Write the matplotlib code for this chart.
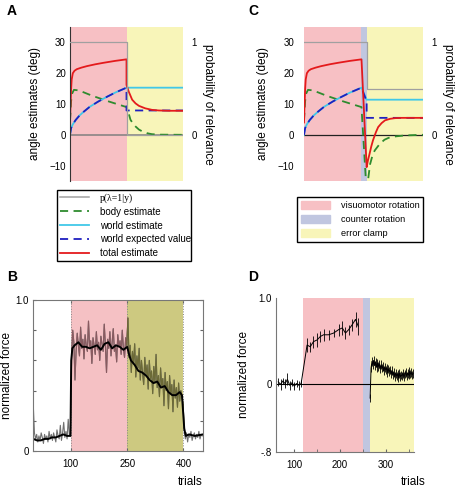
import numpy as np
import matplotlib.pyplot as plt
from matplotlib.patches import Patch

plt.rcParams['font.family'] = ['Liberation Sans', 'DejaVu Sans']

# ---- model curves, panels A and C ----
# shared learning phase (visuomotor rotation, trials 0-100)
rise_t = [0, 1, 2, 3, 5, 8, 12, 20, 30, 45, 60, 80, 100]
rise_total = [4, 10, 15, 18, 20, 20.8, 21.3, 21.8, 22.3, 22.9, 23.4, 24.0, 24.5]
body_t = [0, 2, 4, 7, 16, 39, 69, 100]
body_rise = [4.5, 11, 13.5, 14.6, 14.4, 12.7, 10.8, 9.0]
world_t = [0, 2, 5, 10, 17, 25, 35, 50, 65, 80, 100]
world_rise = [0, 2.2, 3.4, 4.8, 6.3, 7.6, 9.1, 10.8, 12.3, 13.7, 15.3]

# panel A: error clamp after trial 100
a_total_t = [100, 104, 110, 116, 122, 133, 145, 157, 175, 200]
a_total = [16.2, 14.0, 11.4, 10.2, 9.4, 8.6, 8.1, 7.9, 7.8, 7.8]
a_body_t = [103, 107, 112, 116, 122, 128, 137, 145, 160, 200]
a_body = [7.5, 4.9, 3.5, 2.7, 1.7, 1.1, 0.5, 0.2, 0.05, 0]
a_world_t = [200]
a_world = [15.3]
a_wexp_t = [100, 200]
a_wexp = [7.9, 7.9]
a_p_t = [0, 100, 100, 200]
a_p = [1, 1, 0, 0]

# panel C: counter rotation 100-109, then error clamp
c_total_t = [109, 111, 114, 117, 120, 125, 129, 135, 141, 150, 158, 170, 207]
c_total = [-10.5, -8.5, -6.2, -3.8, -1.8, 0.8, 2.5, 3.8, 4.7, 5.2, 5.4, 5.5, 5.5]
c_body_t = [109, 112, 115, 119, 123, 132, 140, 147, 160, 176, 207]
c_body = [-19, -13.8, -9.5, -6.8, -5.1, -2.9, -1.6, -1.0, -0.5, -0.2, 0]
c_world_t = [109, 207]
c_world = [11.4, 11.4]
c_wexp_t = [107, 109, 109, 207]
c_wexp = [11.8, 11.5, 5.5, 5.5]
c_p_t = [0, 109, 109, 207]
c_p = [1, 1, 0.5, 0.5]

# ---- panel B: force, one value every 3 trials ----
b_raw = [0.30, 0.12, 0.08, 0.11, 0.06, 0.10, 0.07, 0.12, 0.09, 0.05, 0.11, 0.08,
         0.10, 0.06, 0.13, 0.08, 0.11, 0.07, 0.12, 0.09, 0.06, 0.14, 0.10, 0.08,
         0.17, 0.07, 0.12, 0.19, 0.09, 0.13, 0.08, 0.21, 0.11, 0.10,
         0.62, 0.80, 0.72, 0.47, 0.66, 0.78, 0.70, 0.63, 0.82, 0.68, 0.74, 0.61,
         0.77, 0.70, 0.66, 0.86, 0.69, 0.73, 0.58, 0.75, 0.70, 0.64, 0.79, 0.67,
         0.72, 0.60, 0.76, 0.71, 0.66, 0.84, 0.70, 0.52, 0.74, 0.68, 0.79, 0.63,
         0.72, 0.81, 0.66, 0.70, 0.59, 0.77, 0.69, 0.73, 0.64, 0.80, 0.68, 0.62,
         0.75, 0.70,
         0.88, 0.62, 0.70, 0.52, 0.66, 0.58, 0.71, 0.49, 0.63, 0.55, 0.68, 0.47,
         0.60, 0.52, 0.44, 0.62, 0.50, 0.57, 0.41, 0.60, 0.48, 0.53, 0.38, 0.56,
         0.45, 0.64, 0.42, 0.50, 0.36, 0.55, 0.43, 0.48, 0.30, 0.52, 0.40, 0.46,
         0.28, 0.50, 0.38, 0.44, 0.26, 0.47, 0.35, 0.42, 0.29, 0.45, 0.33, 0.40,
         0.36, 0.31,
         0.14, 0.08, 0.12, 0.06, 0.11, 0.09, 0.13, 0.07, 0.10, 0.12, 0.08, 0.11,
         0.09, 0.13, 0.08, 0.11, 0.10]
b_smooth_t = [0, 10, 20, 30, 40, 50, 60, 70, 80, 90, 99, 101, 104, 110, 120, 130,
              140, 150, 160, 170, 180, 190, 200, 210, 220, 230, 240, 250, 255, 260,
              270, 280, 290, 300, 310, 320, 330, 340, 350, 360, 370, 380, 390, 396,
              402, 406, 415, 430, 452]
b_smooth = [0.08, 0.07, 0.07, 0.08, 0.08, 0.09, 0.09, 0.10, 0.11, 0.10, 0.10, 0.60,
            0.68, 0.70, 0.72, 0.69, 0.69, 0.68, 0.69, 0.70, 0.67, 0.71, 0.72, 0.68,
            0.70, 0.69, 0.67, 0.69, 0.64, 0.60, 0.57, 0.53, 0.52, 0.50, 0.47, 0.45,
            0.46, 0.42, 0.43, 0.39, 0.37, 0.37, 0.39, 0.37, 0.15, 0.10, 0.11, 0.10,
            0.11]

# ---- panel D: force with error bars ----
d_pre_t = [65, 70, 75, 80, 85, 90, 95, 100, 105, 110, 115,
           128, 135, 142, 150, 157, 164, 175, 186, 197, 205, 212, 219, 227, 234, 240]
d_pre = [0.02, -0.01, 0.03, 0.0, 0.05, -0.02, 0.01, -0.03, 0.0, -0.02, 0.0,
         0.45, 0.43, 0.49, 0.51, 0.55, 0.57, 0.57, 0.59, 0.63, 0.65, 0.59, 0.63,
         0.69, 0.75, 0.67]
d_pre_err = [0.05, 0.06, 0.04, 0.05, 0.07, 0.05, 0.04, 0.05, 0.04, 0.05, 0.04,
             0.08, 0.06, 0.07, 0.08, 0.06, 0.07, 0.06, 0.05, 0.07, 0.08, 0.07, 0.06,
             0.07, 0.09, 0.1]
d_post = [-0.17, 0.18, 0.26, 0.22, 0.27, 0.21, 0.25, 0.19, 0.24, 0.20, 0.23, 0.17,
          0.22, 0.18, 0.20, 0.15, 0.19, 0.16, 0.18, 0.13, 0.17, 0.14, 0.16, 0.11,
          0.15, 0.10, 0.13, 0.08, 0.12, 0.09, 0.11, 0.07, 0.12, 0.08, 0.10, 0.09,
          0.12, 0.08, 0.11, 0.13, 0.09, 0.12, 0.10, 0.14, 0.11, 0.13, 0.10, 0.12]

PINK = '#f7c0c4'
YELLOW = '#f8f5b9'
BLUE = '#c0c6e0'
RED = '#e41a1c'
GREEN = '#2e8b2e'
CYAN = '#41c8e8'
DBLUE = '#1f1fbf'
GRAY = '#a0a0a0'

fig = plt.figure(figsize=(4.59, 4.90), dpi=100)


def model_axes(rect, xmax):
    ax = fig.add_axes(rect)
    ax.set_xlim(0, xmax)
    ax.set_ylim(-15, 35)
    ax.set_yticks([-10, 0, 10, 20, 30])
    ax.set_xticks([])
    for s in ['top', 'right', 'bottom']:
        ax.spines[s].set_visible(False)
    ax.tick_params(axis='y', length=0, labelsize=7, pad=3)
    ax.set_ylabel('angle estimates (deg)', fontsize=8.5, labelpad=6)
    tw = ax.twinx()
    tw.set_ylim(-0.5, 35 / 30)
    tw.set_yticks([0, 1])
    tw.set_yticklabels(['0', '1'])
    for s in tw.spines.values():
        s.set_visible(False)
    tw.tick_params(axis='y', length=0, labelsize=7, pad=6)
    tw.set_ylabel('probability of relevance', fontsize=8.5, rotation=270,
                  va='bottom', labelpad=4)
    return ax, tw


def draw_curves(ax, tw, tot_t, tot, bod_t, bod, w_t, w, we_t, we, p_t, p):
    tw.plot(p_t, p, color=GRAY, lw=0.9)
    ax.plot(body_t + bod_t, body_rise + bod, color=GREEN, lw=1.3, ls=(0, (4.5, 3)))
    ax.plot(world_t + w_t, world_rise + w, color=CYAN, lw=1.3)
    ax.plot(world_t + we_t, world_rise + we, color=DBLUE, lw=1.3, ls=(0, (4.5, 3)))
    ax.plot(rise_t + tot_t, rise_total + tot, color=RED, lw=1.3)


# panel A
axA, twA = model_axes([70 / 459, 1 - 181 / 490, 113 / 459, 154 / 490], 200)
axA.axvspan(0, 100, color=PINK, lw=0)
axA.axvspan(100, 200, color=YELLOW, lw=0)
axA.axhline(0, color='#808080', lw=1.1)
axA.spines['left'].set_color('#333333')
draw_curves(axA, twA, a_total_t, a_total, a_body_t, a_body, a_world_t, a_world,
            a_wexp_t, a_wexp, a_p_t, a_p)

# panel C
axC, twC = model_axes([304 / 459, 1 - 181 / 490, 119 / 459, 154 / 490], 207)
axC.axvspan(0, 100, color=PINK, lw=0)
axC.axvspan(100, 109, color=BLUE, lw=0)
axC.axvspan(109, 207, color=YELLOW, lw=0)
axC.axhline(0, color='#222222', lw=0.9)
axC.spines['left'].set_visible(False)
axC.tick_params(axis='y', pad=7)
draw_curves(axC, twC, c_total_t, c_total, c_body_t, c_body, c_world_t, c_world,
            c_wexp_t, c_wexp, c_p_t, c_p)

# legends
handles = [plt.Line2D([], [], color=GRAY, lw=1.1),
           plt.Line2D([], [], color=GREEN, lw=1.3, ls=(0, (4.5, 3))),
           plt.Line2D([], [], color=CYAN, lw=1.3),
           plt.Line2D([], [], color=DBLUE, lw=1.3, ls=(0, (4.5, 3))),
           plt.Line2D([], [], color=RED, lw=1.3)]
labels = ['p(\u03bb=1|y)', 'body estimate', 'world estimate',
          'world expected value', 'total estimate']
legA = fig.legend(handles, labels, loc='upper left',
                  bbox_to_anchor=(57 / 459, 0.471, 134 / 459, 0.141), mode='expand',
                  fontsize=7, frameon=True, fancybox=False, framealpha=1,
                  edgecolor='black', borderaxespad=0, borderpad=0.35,
                  labelspacing=0.38, handlelength=2.9, handletextpad=1.2)
legA.get_frame().set_linewidth(1.0)
legA.get_texts()[0].set_fontfamily('Liberation Serif')

phandles = [Patch(color=PINK), Patch(color=BLUE), Patch(color=YELLOW)]
plabels = ['visuomotor rotation', 'counter rotation', 'error clamp']
legC = fig.legend(phandles, plabels, loc='upper left',
                  bbox_to_anchor=(297 / 459, 0.502, 126 / 459, 0.096), mode='expand',
                  fontsize=6.6, frameon=True, fancybox=False, framealpha=1,
                  edgecolor='black', borderaxespad=0, borderpad=0.45,
                  labelspacing=0.55, handlelength=3.1, handleheight=0.9,
                  handletextpad=1.3)
legC.get_frame().set_linewidth(1.0)

# panel B
axB = fig.add_axes([33.3 / 459, 1 - 451 / 490, 169.7 / 459, 151 / 490])
axB.set_xlim(0, 452)
axB.set_ylim(0, 1)
axB.axvspan(100, 250, color='#f5c1c4', lw=0)
axB.axvspan(250, 400, color='#cdc980', lw=0)
for xv in [100, 250, 400]:
    axB.axvline(xv, color='#888888', lw=0.7, ls=':')
b_t = np.arange(len(b_raw)) * 3
b_raw = np.array(b_raw)
axB.plot(b_t, b_raw, color='#707070', lw=0.8)
in_pink = (b_t >= 99) & (b_t <= 252)
in_olive = (b_t >= 249) & (b_t <= 402)
axB.plot(b_t[in_pink], b_raw[in_pink], color='#8a5a60', lw=0.8)
axB.plot(b_t[in_olive], b_raw[in_olive], color='#6c6a36', lw=0.8)
axB.plot(b_smooth_t, b_smooth, color='black', lw=1.4)
axB.set_yticks([0, 0.2, 0.4, 0.6, 0.8, 1.0])
axB.set_yticklabels(['0', '', '', '', '', '1.0'])
axB.set_xticks([100, 250, 400])
axB.tick_params(direction='in', length=2, labelsize=7, right=True, top=True,
                color='#666666')
axB.tick_params(axis='x', pad=6)
axB.tick_params(axis='y', pad=3)
for s in axB.spines.values():
    s.set_color('#777777')
    s.set_linewidth(0.8)
axB.set_ylabel('normalized force', fontsize=8.5, labelpad=2)

# panel D
axD = fig.add_axes([276 / 459, 1 - 452 / 490, 138 / 459, 154 / 490])
axD.set_xlim(60, 362)
axD.set_ylim(-0.8, 1.0)
axD.axvspan(120, 250, color=PINK, lw=0)
axD.axvspan(250, 266, color=BLUE, lw=0)
axD.axvspan(266, 362, color=YELLOW, lw=0)
axD.axhline(0, color='black', lw=0.8)
axD.errorbar(d_pre_t, d_pre, yerr=d_pre_err, color='black', lw=0.7,
             elinewidth=0.6, capsize=0)
d_post_t = 266 + np.arange(len(d_post)) * 2
axD.errorbar(d_post_t, d_post, yerr=0.05, color='black', lw=0.7,
             elinewidth=0.6, capsize=0)
for s in ['top', 'right']:
    axD.spines[s].set_visible(False)
axD.spines['left'].set_color('#777777')
axD.spines['bottom'].set_color('#777777')
axD.spines['bottom'].set_linewidth(0.8)
axD.set_yticks([-0.8, 0, 1.0])
axD.set_yticklabels(['-.8', '0', '1.0'])
axD.set_xticks([100, 200, 300])
axD.set_xticks([150, 250, 350], minor=True)
axD.tick_params(axis='y', length=0, labelsize=7, pad=3)
axD.tick_params(axis='x', which='both', direction='in', length=2, labelsize=7,
                color='#666666', pad=6)
axD.set_ylabel('normalized force', fontsize=8.5, labelpad=6)

fig.text(203 / 459, 0.005, 'trials', fontsize=8.5, ha='right', va='bottom')
fig.text(426 / 459, 0.005, 'trials', fontsize=8.5, ha='right', va='bottom')

# panel letters
for x, y, s in [(7, 15, 'A'), (7, 281, 'B'), (248, 15, 'C'), (248, 281, 'D')]:
    fig.text(x / 459, 1 - y / 490, s, fontsize=10, fontweight='bold')

fig.savefig('out.png', dpi=100)
